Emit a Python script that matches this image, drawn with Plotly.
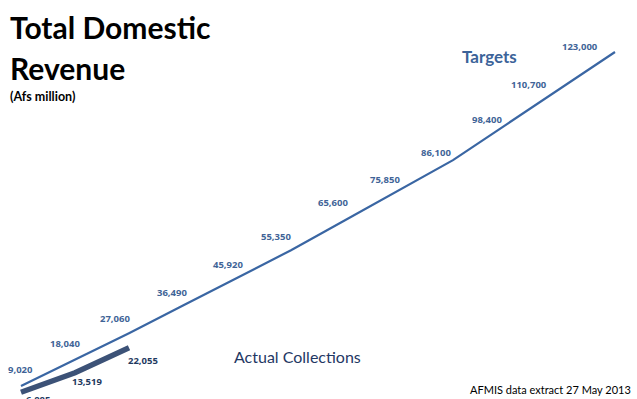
import plotly.graph_objects as go

# ---- data ----
target_months = list(range(12))
target_values = [9020, 18040, 27060, 36490, 45920, 55350, 65600, 75850, 86100, 98400, 110700, 123000]
actual_months = [0, 1, 2]
actual_values = [6885, 13519, 22055]

# ---- label offsets (style, in px relative to each point) ----
target_dx = [-1, -10, -14, -11, -9, -15, -12, -14, -17, -20, -32, -35]
target_dy = [17, 16, 15, 13, 13, 14, 18, 11, 8, 5, 4, 6]
actual_dx = [17, 12, 14]
actual_dy = [-7, -9, -13]

W, H = 637, 399
TARGET_COLOR = "#3a66a3"
TARGET_LABEL = "#3f6497"
ACTUAL_COLOR = "#3c5277"
ACTUAL_LABEL = "#1f3a5f"

fig = go.Figure()
fig.add_trace(go.Scatter(x=target_months, y=target_values, mode="lines",
                         line=dict(color=TARGET_COLOR, width=2.2), hoverinfo="skip"))
fig.add_trace(go.Scatter(x=actual_months, y=actual_values, mode="lines",
                         line=dict(color=ACTUAL_COLOR, width=5.5), hoverinfo="skip"))

ann = []
for i, (m, v) in enumerate(zip(target_months, target_values)):
    ann.append(dict(x=m, y=v, xref="x", yref="y", text=f"{v:,}", showarrow=False,
                    xshift=target_dx[i], yshift=target_dy[i],
                    font=dict(family="Open Sans", size=9.5, color=TARGET_LABEL, weight="bold")))
for i, (m, v) in enumerate(zip(actual_months, actual_values)):
    ann.append(dict(x=m, y=v, xref="x", yref="y", text=f"{v:,}", showarrow=False,
                    xshift=actual_dx[i], yshift=actual_dy[i],
                    font=dict(family="Open Sans", size=9.5, color=ACTUAL_LABEL, weight="bold")))

def px(x):
    return x / W

def py(y):
    return 1 - y / H

ann += [
    dict(x=px(8), y=py(27), xref="paper", yref="paper", text="<b>Total Domestic</b>",
         showarrow=False, xanchor="left", yanchor="middle",
         font=dict(family="Lato", size=30, color="#000000")),
    dict(x=px(8), y=py(68), xref="paper", yref="paper", text="<b>Revenue</b>",
         showarrow=False, xanchor="left", yanchor="middle",
         font=dict(family="Lato", size=30, color="#000000")),
    dict(x=px(8), y=py(97), xref="paper", yref="paper", text="<b>(Afs million)</b>",
         showarrow=False, xanchor="left", yanchor="middle",
         font=dict(family="Lato", size=12.5, color="#000000")),
    dict(x=px(489), y=py(57), xref="paper", yref="paper", text="<b>Targets</b>",
         showarrow=False, xanchor="center", yanchor="middle",
         font=dict(family="Lato", size=17, color="#3c6399")),
    dict(x=px(297), y=py(356), xref="paper", yref="paper", text="Actual Collections",
         showarrow=False, xanchor="center", yanchor="middle",
         font=dict(family="Lato", size=16, color="#1f3864")),
    dict(x=px(633), y=py(389), xref="paper", yref="paper", text="AFMIS data extract 27 May 2013",
         showarrow=False, xanchor="right", yanchor="middle",
         font=dict(family="Lato", size=11, color="#000000")),
]

# axis ranges map month 0 -> 21px, month 11 -> 615px; 9,020 -> 386px, 123,000 -> 52px
x0_px, x_step = 21, 54
y_scale = (386 - 52) / (123000 - 9020)
y_zero_px = 386 + 9020 * y_scale

fig.update_layout(
    width=W, height=H,
    margin=dict(l=0, r=0, t=0, b=0),
    paper_bgcolor="white", plot_bgcolor="white",
    showlegend=False,
    xaxis=dict(range=[-x0_px / x_step, (W - x0_px) / x_step], visible=False, fixedrange=True),
    yaxis=dict(range=[(y_zero_px - H) / y_scale, y_zero_px / y_scale], visible=False, fixedrange=True),
    annotations=ann,
)

fig.write_html("out.html", config={"displayModeBar": False},
               post_script="document.body.style.margin='0';document.body.style.overflow='hidden';")
